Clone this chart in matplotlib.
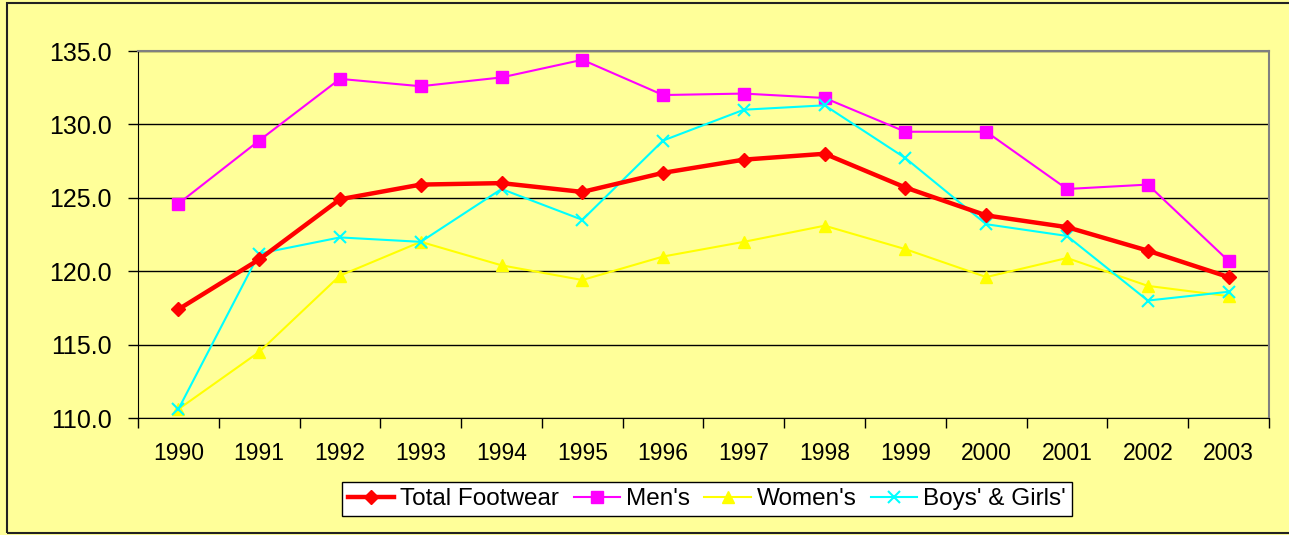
import matplotlib
matplotlib.use("Agg")
import matplotlib.pyplot as plt
from matplotlib.patches import Rectangle

years = ['1990', '1991', '1992', '1993', '1994', '1995', '1996',
         '1997', '1998', '1999', '2000', '2001', '2002', '2003']
total_footwear = [117.4, 120.8, 124.9, 125.9, 126.0, 125.4, 126.7,
                  127.6, 128.0, 125.7, 123.8, 123.0, 121.4, 119.6]
mens = [124.6, 128.9, 133.1, 132.6, 133.2, 134.4, 132.0,
        132.1, 131.8, 129.5, 129.5, 125.6, 125.9, 120.7]
womens = [110.6, 114.5, 119.7, 122.0, 120.4, 119.4, 121.0,
          122.0, 123.1, 121.5, 119.6, 120.9, 119.0, 118.3]
boys_girls = [110.6, 121.2, 122.3, 122.0, 125.6, 123.5, 128.9,
              131.0, 131.3, 127.7, 123.2, 122.4, 118.0, 118.6]

plt.rcParams['font.family'] = ['Liberation Sans', 'DejaVu Sans']
BG = '#FFFF99'

fig = plt.figure(figsize=(12.89, 5.35), dpi=100, facecolor=BG)
# outer chart border
fig.patches.append(Rectangle((7 / 1289, 2 / 535), 1.01, 530 / 535, transform=fig.transFigure,
                             fill=False, edgecolor='#222222', linewidth=1.5))

ax = fig.add_axes([138 / 1289, 1 - 418 / 535, (1269 - 138) / 1289, (418 - 51) / 535])
ax.set_facecolor(BG)

x = list(range(len(years)))
ax.plot(x, total_footwear, color='#FF0000', linewidth=3.2, marker='D', markersize=7,
        label='Total Footwear', zorder=5)
ax.plot(x, mens, color='#FF00FF', linewidth=1.5, marker='s', markersize=8,
        label="Men's", zorder=4)
ax.plot(x, womens, color='#FFFF00', linewidth=1.5, marker='^', markersize=8,
        label="Women's", zorder=3)
ax.plot(x, boys_girls, color='#00FFFF', linewidth=1.5, marker='x', markersize=9,
        markeredgewidth=1.5, label="Boys' & Girls'", zorder=4)

ax.set_ylim(110, 135)
ax.set_xlim(-0.5, len(years) - 0.5)
ax.set_yticks([110, 115, 120, 125, 130, 135])
ax.set_yticklabels([f'{v:.1f}' for v in [110, 115, 120, 125, 130, 135]], fontsize=18)
ax.set_xticks(x)
ax.set_xticklabels(years, fontsize=16.5)
ax.set_xticks([i - 0.5 for i in range(len(years) + 1)], minor=True)
ax.tick_params(axis='x', which='major', length=0, pad=17)
ax.tick_params(axis='x', which='minor', length=7, width=1, color='black')
ax.tick_params(axis='y', length=7, width=1, pad=12)

ax.grid(axis='y', color='black', linewidth=1, zorder=1)
ax.set_axisbelow(True)
for s in ['top', 'right']:
    ax.spines[s].set_color('#808080')
    ax.spines[s].set_linewidth(1.5)
ax.spines['left'].set_color('black')
ax.spines['bottom'].set_color('black')

leg = fig.legend(loc='center', bbox_to_anchor=(707 / 1289, 1 - 499 / 535), ncol=4,
                 fontsize=17.5, frameon=True, fancybox=False, edgecolor='black',
                 facecolor='white', framealpha=1, handlelength=1.9, columnspacing=0.6,
                 handletextpad=0.25, borderpad=0.25, borderaxespad=0)
leg.get_frame().set_linewidth(1)

fig.savefig('out.png', dpi=100, facecolor=BG)
